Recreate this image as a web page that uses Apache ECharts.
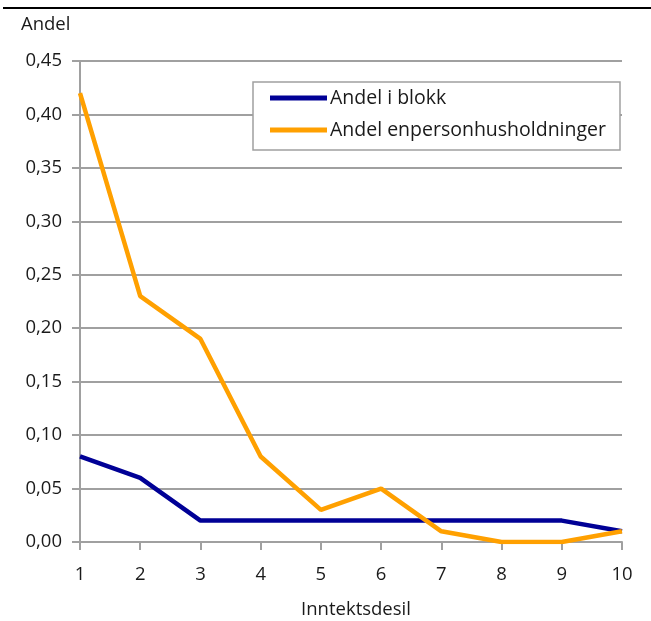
<!DOCTYPE html>
<html>
<head>
<meta charset="utf-8">
<script src="https://cdn.jsdelivr.net/npm/echarts@6/dist/echarts.min.js"></script>
<style>
  html, body { margin: 0; padding: 0; background: #fff; }
  #chart { width: 651px; height: 621px; }
</style>
</head>
<body>
<div id="chart"></div>
<script>
// Income deciles on the x axis
const deciles = ['1', '2', '3', '4', '5', '6', '7', '8', '9', '10'];
// Share living in apartment blocks
const andelBlokk = [0.08, 0.06, 0.02, 0.02, 0.02, 0.02, 0.02, 0.02, 0.02, 0.01];
// Share of single-person households
const andelEnperson = [0.42, 0.23, 0.19, 0.08, 0.03, 0.05, 0.01, 0.00, 0.00, 0.01];

const seriesNames = ['Andel i blokk', 'Andel enpersonhusholdninger'];
const FONT = '"Open Sans", "Noto Sans", sans-serif';
const FS = 18.5;
const axisGray = '#a0a0a0';
const textColor = '#1a1a1a';

const chart = echarts.init(document.getElementById('chart'), null, { renderer: 'canvas' });

chart.setOption({
  animation: false,
  backgroundColor: '#ffffff',
  textStyle: { fontFamily: FONT, color: textColor },
  title: {
    text: 'Andel',
    left: 21,
    top: 15,
    padding: 0,
    textStyle: { fontFamily: FONT, fontSize: FS, fontWeight: 'normal', color: textColor }
  },
  graphic: [{
    type: 'line',
    shape: { x1: 3, y1: 8, x2: 651, y2: 8 },
    style: { stroke: '#000', lineWidth: 2 }
  }],
  legend: {
    orient: 'vertical',
    left: 253,
    top: 82,
    padding: [6, 14, 10, 17],
    itemGap: 12,
    itemWidth: 57,
    itemHeight: 5,
    icon: 'rect',
    borderColor: axisGray,
    borderWidth: 1.5,
    backgroundColor: '#fff',
    textStyle: { fontFamily: FONT, fontSize: 19.5, color: textColor, padding: [0, 0, 0, -2] },
    data: seriesNames
  },
  grid: { left: 80, right: 29, top: 61, bottom: 79, outerBoundsMode: 'none', containLabel: false },
  xAxis: {
    type: 'category',
    data: deciles,
    boundaryGap: false,
    name: 'Inntektsdesil',
    nameLocation: 'middle',
    nameGap: 58,
    nameTextStyle: { fontFamily: FONT, fontSize: FS, color: textColor, padding: [0, 0, 0, 10] },
    axisLine: { lineStyle: { color: axisGray, width: 2 } },
    axisTick: { show: true, length: 8, lineStyle: { color: axisGray, width: 2 } },
    axisLabel: { fontFamily: FONT, fontSize: FS, color: textColor, margin: 23 },
    splitLine: { show: false }
  },
  yAxis: {
    type: 'value',
    min: 0,
    max: 0.45,
    interval: 0.05,
    axisLine: { show: true, lineStyle: { color: axisGray, width: 2 } },
    axisTick: { show: true, length: 8, lineStyle: { color: axisGray, width: 2 } },
    axisLabel: {
      fontFamily: FONT, fontSize: FS, color: textColor, margin: 18,
      formatter: v => v.toFixed(2).replace('.', ',')
    },
    splitLine: { show: true, lineStyle: { color: axisGray, width: 2 } }
  },
  series: [
    {
      name: seriesNames[0],
      type: 'line',
      data: andelBlokk,
      symbol: 'none',
      lineStyle: { color: '#000096', width: 4.5 },
      itemStyle: { color: '#000096' },
      z: 2
    },
    {
      name: seriesNames[1],
      type: 'line',
      data: andelEnperson,
      symbol: 'none',
      lineStyle: { color: '#ffa000', width: 4.5 },
      itemStyle: { color: '#ffa000' },
      z: 3
    }
  ]
});
</script>
</body>
</html>
